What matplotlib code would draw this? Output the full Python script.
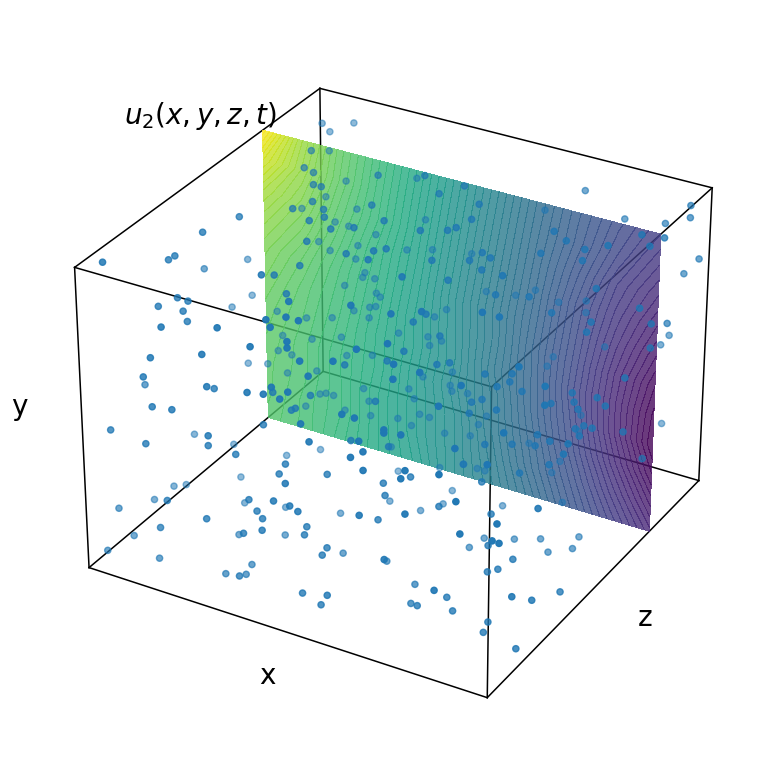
import numpy as np, matplotlib
matplotlib.use('Agg')
import matplotlib.pyplot as plt
from itertools import product, combinations

rows = """03 06 99|17 38 99|35 18 99|20 02 87|34 02 92|46 02 99|47 02 97|49 05 99|52 05 99|46 11 99|33 70 99|42 75 99|33 47 99|45 52 99|41 46 99|54 52 99|50 39 99|51 35 99|79 43 99|61 32 99|58 16 99|67 17 99|72 21 99|83 27 99|87 27 99|79 66 99|92 66 99|99 79 96|99 97 78|99 74 71|99 82 66|96 19 92|42 02 89|17 02 76|30 02 82|15 02 69|31 02 72|41 02 74|45 02 75|47 02 78|49 02 75|51 02 78|51 02 94|51 02 92|17 02 60|22 02 61|15 02 47|31 02 56|50 02 48|20 02 30|47 02 41|51 02 41|18 02 20|44 02 30|38 02 12|72 07 98|67 03 97|62 02 92|54 02 89|74 06 93|79 08 91|56 02 85|75 04 90|87 11 88|64 02 76|84 07 83|67 02 76|54 02 69|74 02 75|74 02 74|78 02 75|68 02 69|69 02 66|56 02 64|89 05 73|66 02 63|69 02 60|79 02 64|78 02 61|87 02 66|91 02 59|53 02 40|68 02 45|60 02 15|74 02 33|79 02 50|99 23 45|99 05 53|92 02 49|99 03 49|99 06 46|86 02 28|99 12 24|99 21 16|99 34 09|99 25 83|99 25 77|97 11 77|99 36 57|99 34 55|96 06 70|14 28 99|09 22 92|10 23 93|30 31 89|13 19 83|15 20 82|10 16 81|15 18 80|16 18 77|33 31 84|34 35 91|34 38 97|31 44 99|27 52 99|25 47 99|23 59 99|20 64 99|17 65 99|14 73 99|09 86 99|49 69 99|52 75 99|25 59 99|31 50 99|37 43 99|39 57 99|61 62 99|59 55 99|60 57 99|59 69 99|49 46 95|42 41 94|58 50 92|67 56 94|69 56 93|65 54 92|68 54 90|62 50 87|72 53 84|60 44 79|82 66 97|78 62 94|86 67 95|86 66 92|96 74 99|98 74 96|90 65 85|78 57 83|83 58 79|91 61 77|91 59 75|99 68 80|99 74 63|25 14 61|06 02 48|27 08 47|32 11 44|36 16 52|42 15 42|41 14 39|37 08 33|39 08 30|41 07 29|30 02 28|38 04 25|58 38 70|64 43 74|48 30 67|55 36 67|65 40 67|67 42 67|36 20 60|43 24 59|40 21 55|41 21 56|55 31 57|53 24 48|60 28 46|75 34 42|50 19 39|66 27 39|61 24 37|62 23 34|73 27 32|49 12 26|49 11 24|62 20 28|54 12 21|54 10 20|52 05 10|56 06 07|83 32 30|84 29 22|89 31 18|85 27 15|87 28 16|79 20 09|74 16 07|81 19 06|88 22 03|88 20 01|74 45 64|79 48 64|99 62 61|79 47 62|77 45 61|82 47 60|91 53 59|75 42 58|73 41 57|96 55 58|98 55 56|88 49 57|92 52 57|93 52 55|78 43 55|73 40 54|95 51 51|94 49 51|97 51 51|99 62 43|95 49 49|87 45 49|90 45 48|83 41 47|87 44 46|78 38 47|99 72 27|91 43 42|86 39 40|79 35 37|58 42 77|01 48 70|01 66 62|02 66 50|01 59 50|08 67 46|14 70 44|10 66 39|07 80 73|12 79 64|12 95 95|08 91 93|09 89 88|14 88 80|28 96 81|11 84 76|14 83 69|18 86 73|17 84 68|32 93 70|23 86 66|20 83 63|15 79 62|20 82 59|30 88 62|35 91 62|43 95 61|23 81 56|23 80 55|25 82 54|20 77 53|26 81 50|27 81 49|48 93 51|54 96 50|23 76 46|26 78 47|27 79 47|27 76 45|41 87 46|19 73 44|39 85 44|70 98 90|60 98 80|80 98 84|90 98 86|96 98 94|96 98 90|95 98 71|58 98 52|64 98 50|71 98 53|71 98 49|76 98 39|92 98 49|90 98 45|65 94 34|64 93 31|05 59 32|09 61 32|01 23 47|13 63 29|10 64 35|01 42 17|07 49 11|18 54 08|10 47 02|01 33 05|01 38 02|01 25 06|01 11 13|16 39 01|25 42 01|02 15 01|31 32 01|22 27 01|01 06 02|12 10 01|31 18 01|28 12 01|32 14 01|22 72 39|33 79 40|16 69 38|39 82 39|42 83 38|40 81 37|13 65 34|24 71 34|29 74 34|40 78 28|46 81 30|19 66 30|21 64 24|22 65 24|24 65 24|29 70 25|38 75 25|46 80 26|47 79 25|19 61 21|27 65 20|31 69 22|40 74 23|42 73 19|44 74 18|32 68 18|38 70 18|41 71 16|48 74 14|38 67 10|24 59 09|49 70 05|41 65 04|54 67 01|44 56 01|55 61 01|52 56 01|37 46 01|56 34 01|46 32 01|67 67 01|70 53 01|76 56 01|81 59 01|88 64 01|69 48 01|85 55 01|89 59 01|66 29 01|69 22 01|97 18 01|50 81 24|55 81 18|74 91 19|54 79 16|74 90 14|91 98 18|53 77 13|65 83 11|72 85 06|53 74 05|56 75 04|58 75 04|71 83 03|78 75 01"""
triples = np.array([[int(v) / 100 for v in r.split()] for r in rows.split('|')])
x_train, z_train, y_train = triples.T

x_grid = [i / 10 for i in range(11)]
y_grid = [i / 10 for i in range(11)]
u2 = [  # rows bottom to top
 [.73,.70,.65,.60,.55,.48,.42,.35,.27,.19,.11],
 [.74,.70,.66,.60,.54,.48,.41,.33,.25,.16,.07],
 [.74,.71,.66,.60,.54,.48,.40,.32,.23,.13,.03],
 [.75,.71,.66,.61,.54,.47,.40,.31,.22,.11,.00],
 [.76,.72,.67,.61,.55,.48,.39,.31,.21,.11,.01],
 [.78,.73,.68,.62,.55,.48,.40,.31,.22,.12,.03],
 [.80,.75,.69,.63,.56,.48,.40,.32,.23,.14,.06],
 [.83,.78,.71,.64,.57,.49,.41,.33,.24,.16,.09],
 [.87,.81,.73,.66,.58,.50,.42,.34,.26,.18,.12],
 [.93,.84,.75,.67,.59,.51,.43,.35,.28,.21,.15],
 [1.0,.86,.76,.68,.60,.52,.44,.36,.29,.23,.18],
]
z_plane = 0.75

fig = plt.figure(figsize=(7.79,7.79), dpi=100)
ax = fig.add_axes([0.0456,0.047,0.91,0.91], projection='3d', computed_zorder=False)
ax.set_axis_off()
for s,e in combinations(np.array(list(product([0,1],[0,1],[0,1]))),2):
    if np.abs(s-e).sum()==1:
        ax.plot(*zip(s,e),color='k',lw=1.1,zorder=1)
X,Y = np.meshgrid(x_grid,y_grid)
cs = ax.contourf(X,np.array(u2),Y,zdir='y',offset=z_plane,levels=70,cmap='viridis',alpha=0.8)
cs.set_zorder(2)
depth = 1.73*x_train - 3*z_train + 1.5*y_train
fade = (depth.max()-depth)/(depth.max()-depth.min())
colors = np.tile(matplotlib.colors.to_rgba('#1f77b4'),(len(depth),1))
colors[:,3] = 1 - 0.5*fade
ax.scatter(x_train,z_train,y_train,s=20,c=colors,depthshade=False,zorder=3)
ax.set_xlim(0,1);ax.set_ylim(0,1);ax.set_zlim(0,1)
fig.text(267.5/779,1-676/779,'x',fontsize=20,ha='center',va='center')
fig.text(19.5/779,1-407/779,'y',fontsize=20,ha='center',va='center')
fig.text(645/779,1-618/779,'z',fontsize=20,ha='center',va='center')
fig.text(200/779,1-116/779,'$u_2(x,y,z,t)$',fontsize=20,ha='center',va='center')
fig.savefig('out.png',dpi=100)
